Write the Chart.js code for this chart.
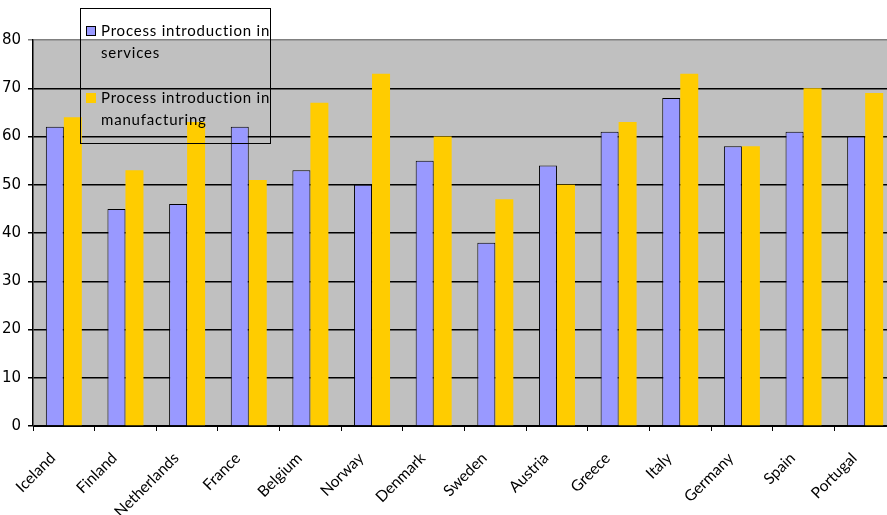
<!DOCTYPE html>
<html>
<head>
<meta charset="utf-8">
<script src="https://cdn.jsdelivr.net/npm/chart.js@4/dist/chart.umd.min.js"></script>
<style>
  html, body { margin: 0; padding: 0; background: #fff; overflow: hidden; }
  #wrap { position: relative; width: 900px; height: 515px; }
</style>
</head>
<body>
<div id="wrap"><canvas id="c" width="900" height="515"></canvas></div>
<script>
const categories = ["Iceland","Finland","Netherlands","France","Belgium","Norway","Denmark","Sweden","Austria","Greece","Italy","Germany","Spain","Portugal"];
const servicesLabel = ["Process introduction in", "services"];
const manufacturingLabel = ["Process introduction in", "manufacturing"];
const servicesValues = [62,45,46,62,53,50,55,38,54,61,68,58,61,60];
const manufacturingValues = [64,53,63,51,67,73,60,47,50,63,73,58,70,69];
const yTicks = [0,10,20,30,40,50,60,70,80];

const plotBg = {
  id: 'plotBg',
  beforeDraw(chart) {
    const {ctx, chartArea: a} = chart;
    ctx.save();
    ctx.fillStyle = '#C0C0C0';
    ctx.fillRect(a.left, a.top, a.right - a.left, a.bottom - a.top);
    ctx.restore();
  }
};

const boxLegend = {
  id: 'boxLegend',
  afterDraw(chart) {
    const ctx = chart.ctx;
    ctx.save();
    ctx.strokeStyle = '#000';
    ctx.lineWidth = 1;
    ctx.strokeRect(80.5, 8.5, 190, 135);
    ctx.font = '15px Lato, "Open Sans", sans-serif';
    try { ctx.letterSpacing = '0.8px'; } catch (e) {}
    ctx.fillStyle = '#000';
    ctx.textBaseline = 'middle';
    ctx.textAlign = 'left';
    const ds = chart.data.datasets;
    const entries = [
      {y: 31, ds: ds[0]},
      {y: 98, ds: ds[1]}
    ];
    entries.forEach(e => {
      ctx.fillStyle = e.ds.backgroundColor;
      ctx.fillRect(86, e.y - 5, 10, 10);
      if (e.ds.borderWidth) {
        ctx.strokeStyle = '#000';
        ctx.strokeRect(86.5, e.y - 4.5, 9, 9);
      }
      ctx.fillStyle = '#000';
      const lines = e.ds.label;
      lines.forEach((t, i) => ctx.fillText(t, 101, e.y + i * 22));
    });
    ctx.restore();
  }
};

new Chart(document.getElementById('c'), {
  type: 'bar',
  data: {
    labels: categories,
    datasets: [
      {
        label: servicesLabel,
        data: servicesValues,
        backgroundColor: '#9999FF',
        borderColor: '#000',
        borderWidth: 1,
        categoryPercentage: 0.584,
        barPercentage: 1.0
      },
      {
        label: manufacturingLabel,
        data: manufacturingValues,
        backgroundColor: '#FFCC00',
        borderWidth: 0,
        categoryPercentage: 0.584,
        barPercentage: 1.0
      }
    ]
  },
  options: {
    responsive: false,
    animation: false,
    layout: { padding: { top: 40, right: 4, left: 0, bottom: 0 } },
    plugins: { legend: { display: false }, tooltip: { enabled: false } },
    scales: {
      x: {
        grid: { drawOnChartArea: false, drawTicks: true, tickLength: 5, color: '#000', offset: true },
        border: { display: true, color: '#000', width: 1 },
        ticks: {
          color: '#000',
          font: { family: 'Lato, sans-serif', size: 15.5 },
          maxRotation: 45, minRotation: 45,
          autoSkip: false,
          padding: 18,
          labelOffset: -11
        },
        afterFit(s) { s.height = 89; }
      },
      y: {
        min: 0, max: 80,
        afterBuildTicks(s) { s.ticks = yTicks.map(v => ({value: v})); },
        grid: {
          color: ctx => (ctx.tick && ctx.tick.value === 80) ? '#808080' : '#000',
          lineWidth: 1.5,
          tickLength: 5,
          drawTicks: true
        },
        border: { display: true, color: '#000', width: 1.5 },
        ticks: {
          color: '#000',
          font: { family: '"DejaVu Sans", sans-serif', size: 15 },
          padding: 7,
          stepSize: 10
        },
        afterFit(s) { s.width = 33; }
      }
    }
  },
  plugins: [plotBg, boxLegend]
});
</script>
</body>
</html>
